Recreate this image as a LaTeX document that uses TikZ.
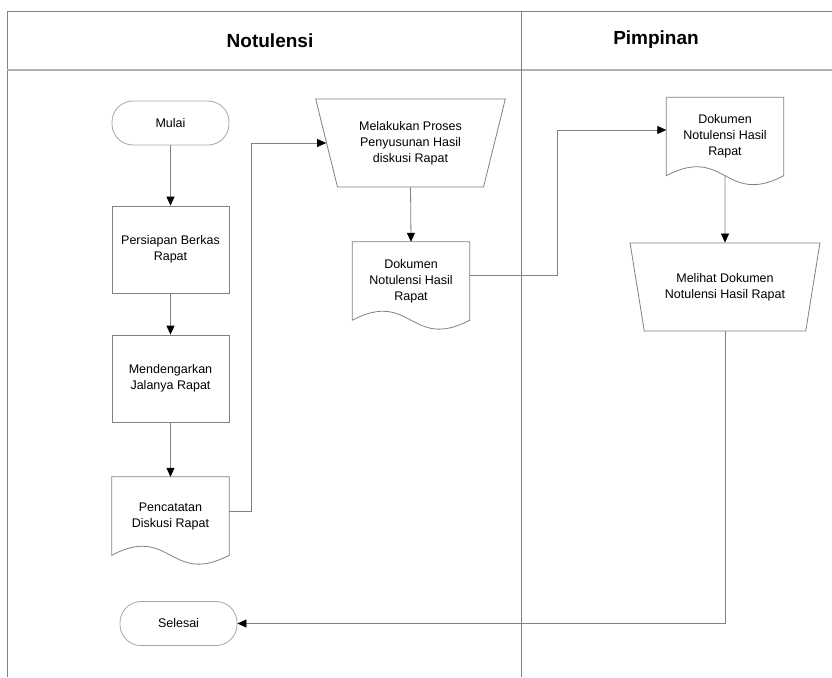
\documentclass[tikz,border=0pt]{standalone}
\usepackage{fontspec}
\setmainfont{Liberation Sans}
\usetikzlibrary{arrows.meta,shapes.geometric,calc}

\tikzset{
  lane/.style={draw=gray, line width=0.8pt},
  flow/.style={draw=gray, line width=0.8pt, -{Triangle[length=9pt,width=8pt,color=black]}},
  proses/.style={draw=gray, line width=0.8pt, minimum width=117pt, minimum height=87pt,
    align=center, font=\fontsize{12.5}{16}\selectfont},
  terminal/.style={draw=gray!70, line width=0.8pt, rounded corners=21pt,
    minimum width=117pt, minimum height=44pt, font=\fontsize{12.5}{16}\selectfont},
  manual/.style={trapezium, shape border rotate=180, trapezium stretches=true,
    trapezium left angle=72, trapezium right angle=72, minimum width=190pt,
    minimum height=88pt, draw=gray, line width=0.8pt, align=center,
    font=\fontsize{12.5}{16}\selectfont},
  dokumen/.style={minimum width=117pt, minimum height=78pt, inner sep=0pt,
    align=center, font=\fontsize{12.5}{16}\selectfont},
  judul/.style={font=\fontsize{19}{22}\selectfont\bfseries}
}

% outline of a document symbol (wavy bottom)
\newcommand{\docoutline}[1]{%
  \draw[draw=gray, line width=0.8pt] (#1.south east)
    .. controls ($(#1.south)+(0,31)$) and ($(#1.south)+(0,-31)$) .. (#1.south west)
    -- (#1.north west) -- (#1.north east) -- cycle;}

\begin{document}
\begin{tikzpicture}[x=1pt, y=-1pt]
  \useasboundingbox (0,0) rectangle (832,677);

  % swimlanes
  \draw[lane] (7,677) -- (7,11) -- (832,11);
  \draw[draw=gray!60, line width=1.5pt] (7,70) -- (832,70);
  \draw[lane] (521,11) -- (521,677);
  \node[judul] (notulensi) at (270,41) {Notulensi};
  \node[judul] (pimpinan) at (656,40) {Pimpinan};

  % Notulensi
  \node[terminal] (mulai) at (170.5,123) {Mulai};
  \node[proses] (persiapan) at (170.5,249.5) {Persiapan Berkas\\Rapat};
  \node[proses] (mendengarkan) at (170.5,378.5) {Mendengarkan\\Jalanya Rapat};
  \node[dokumen] (pencatatan) at (170.5,516) {Pencatatan\\Diskusi Rapat};
  \docoutline{pencatatan}
  \node[terminal] (selesai) at (178.5,623.5) {Selesai};
  \node[manual] (melakukan) at (410.5,143) {Melakukan Proses\\Penyusunan Hasil\\diskusi Rapat};
  \node[dokumen] (dokumen1) at (411,281) {Dokumen\\Notulensi Hasil\\Rapat};
  \docoutline{dokumen1}

  % Pimpinan
  \node[dokumen] (dokumen2) at (725,136.5) {Dokumen\\Notulensi Hasil\\Rapat};
  \docoutline{dokumen2}
  \node[manual] (melihat) at (725,287) {Melihat Dokumen\\Notulensi Hasil Rapat};

  % connectors
  \draw[flow] (mulai) -- (persiapan);
  \draw[flow] (persiapan) -- (mendengarkan);
  \draw[flow] (mendengarkan) -- (pencatatan.north);
  \draw[flow] ([yshift=5pt]pencatatan.east) -- ++(22.5,0) |- (melakukan.west);
  \draw[flow] (melakukan.south) -- (dokumen1.north);
  \draw[flow] ([yshift=6pt]dokumen1.east) -- ++(88,0) |- ([yshift=6.5pt]dokumen2.west);
  \draw[flow] (dokumen2.south) -- (melihat.north);
  \draw[flow] (melihat.south) |- (selesai.east);
\end{tikzpicture}
\end{document}
